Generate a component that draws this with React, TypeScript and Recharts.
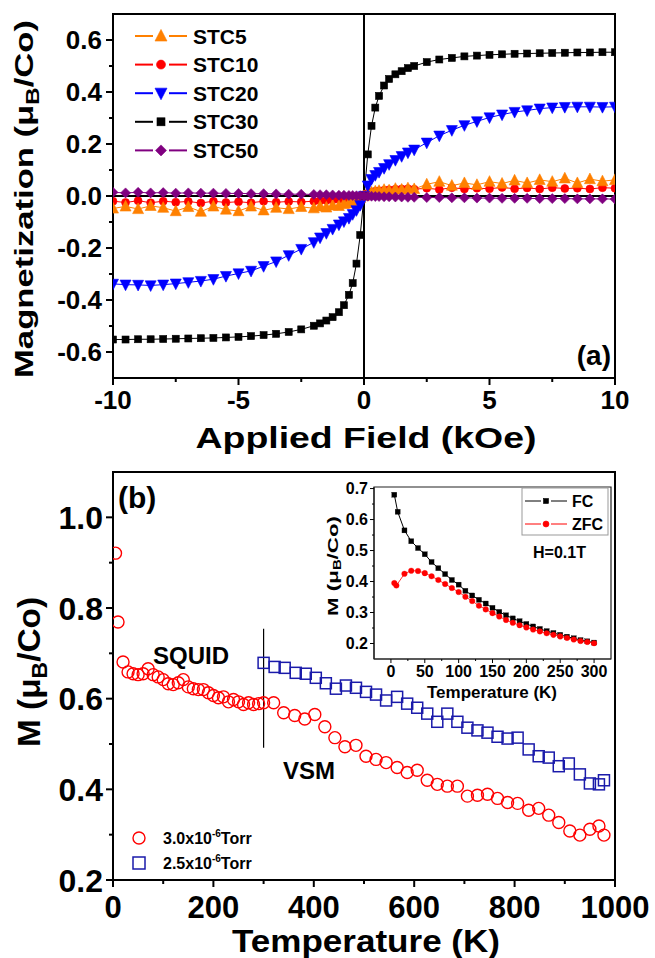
import React from 'react';
import { LineChart, Line, XAxis, YAxis, ReferenceLine, ReferenceArea, ScatterChart, Scatter } from 'recharts';

const FONT = '"Liberation Sans", Arial, Helvetica, sans-serif';

// ---------- Panel (a): M vs H ----------
const fieldKOe = [-10, -9.5, -9, -8.5, -8, -7.5, -7, -6.5, -6, -5.5, -5, -4.5, -4, -3.5, -3, -2.5, -2, -1.75, -1.5, -1.25, -1, -0.8, -0.6, -0.45, -0.3, -0.15, 0, 0.15, 0.3, 0.45, 0.6, 0.8, 1, 1.25, 1.5, 1.75, 2, 2.5, 3, 3.5, 4, 4.5, 5, 5.5, 6, 6.5, 7, 7.5, 8, 8.5, 9, 9.5, 10];
const stc5 = [-0.048, -0.04, -0.05, -0.038, -0.045, -0.058, -0.042, -0.06, -0.04, -0.052, -0.058, -0.04, -0.055, -0.045, -0.05, -0.042, -0.047, -0.04, -0.044, -0.036, -0.038, -0.03, -0.028, -0.02, -0.015, -0.008, 0.0, 0.008, 0.014, 0.018, 0.02, 0.024, 0.022, 0.028, 0.025, 0.03, 0.027, 0.045, 0.055, 0.04, 0.05, 0.043, 0.055, 0.048, 0.06, 0.05, 0.062, 0.055, 0.068, 0.05, 0.065, 0.057, 0.062];
const stc10 = [-0.02, -0.025, -0.018, -0.026, -0.02, -0.024, -0.021, -0.027, -0.02, -0.025, -0.022, -0.026, -0.02, -0.024, -0.021, -0.023, -0.02, -0.018, -0.017, -0.015, -0.013, -0.011, -0.008, -0.006, -0.004, -0.002, 0.005, 0.01, 0.015, 0.018, 0.02, 0.022, 0.024, 0.026, 0.027, 0.028, 0.026, 0.03, 0.025, 0.032, 0.027, 0.03, 0.028, 0.033, 0.028, 0.031, 0.027, 0.032, 0.029, 0.03, 0.027, 0.032, 0.03];
const stc20 = [-0.338, -0.341, -0.342, -0.344, -0.341, -0.337, -0.332, -0.327, -0.32, -0.308, -0.298, -0.288, -0.27, -0.252, -0.228, -0.204, -0.178, -0.16, -0.143, -0.127, -0.11, -0.098, -0.085, -0.07, -0.055, -0.035, 0.0, 0.04, 0.065, 0.08, 0.092, 0.107, 0.122, 0.138, 0.153, 0.167, 0.178, 0.205, 0.232, 0.253, 0.272, 0.287, 0.302, 0.313, 0.323, 0.329, 0.336, 0.34, 0.342, 0.343, 0.343, 0.342, 0.343];
const stc30 = [-0.552, -0.552, -0.551, -0.551, -0.55, -0.549, -0.548, -0.547, -0.546, -0.544, -0.542, -0.539, -0.535, -0.53, -0.523, -0.513, -0.499, -0.49, -0.479, -0.466, -0.447, -0.42, -0.38, -0.335, -0.26, -0.15, 0.0, 0.16, 0.27, 0.34, 0.385, 0.425, 0.45, 0.468, 0.48, 0.492, 0.5, 0.515, 0.525, 0.531, 0.537, 0.54, 0.543, 0.545, 0.547, 0.548, 0.549, 0.55, 0.551, 0.552, 0.552, 0.553, 0.553];
const stc50 = [0.014, 0.012, 0.014, 0.012, 0.013, 0.011, 0.012, 0.011, 0.011, 0.01, 0.01, 0.009, 0.009, 0.008, 0.007, 0.007, 0.006, 0.005, 0.005, 0.004, 0.003, 0.003, 0.002, 0.002, 0.001, 0.001, 0.0, -0.001, -0.001, -0.002, -0.002, -0.003, -0.003, -0.004, -0.004, -0.005, -0.005, -0.006, -0.006, -0.007, -0.007, -0.008, -0.008, -0.009, -0.009, -0.009, -0.01, -0.01, -0.01, -0.011, -0.011, -0.011, -0.012];
const seriesNamesA = ['STC5', 'STC10', 'STC20', 'STC30', 'STC50'];
const xTicksA = [-10, -7.5, -5, -2.5, 0, 2.5, 5, 7.5, 10];
const xMajorsA = [-10, -5, 0, 5, 10];
const yTicksA = [-0.6, -0.5, -0.4, -0.3, -0.2, -0.1, 0, 0.1, 0.2, 0.3, 0.4, 0.5, 0.6];
const yMajorsA = [-0.6, -0.4, -0.2, 0, 0.2, 0.4, 0.6];

// ---------- Panel (b): M vs T ----------
const tempRed = [5, 10, 20, 30, 40, 50, 60, 70, 80, 90, 100, 110, 120, 130, 140, 150, 160, 170, 180, 190, 200, 210, 220, 230, 240, 250, 260, 270, 280, 290, 300, 320, 340, 362, 382, 402, 422, 442, 462, 484, 504, 524, 544, 566, 586, 606, 626, 646, 666, 686, 706, 726, 746, 766, 786, 806, 828, 848, 868, 888, 910, 930, 950, 968, 978];
const mRed = [0.921, 0.769, 0.681, 0.659, 0.655, 0.653, 0.655, 0.666, 0.653, 0.648, 0.642, 0.633, 0.631, 0.635, 0.642, 0.626, 0.622, 0.62, 0.62, 0.613, 0.607, 0.602, 0.604, 0.593, 0.598, 0.593, 0.587, 0.591, 0.587, 0.589, 0.591, 0.591, 0.569, 0.563, 0.555, 0.565, 0.538, 0.514, 0.494, 0.497, 0.473, 0.466, 0.459, 0.448, 0.437, 0.442, 0.42, 0.411, 0.407, 0.407, 0.385, 0.387, 0.389, 0.38, 0.371, 0.369, 0.354, 0.358, 0.343, 0.327, 0.308, 0.299, 0.312, 0.319, 0.299];
const tempBlue = [300, 322, 342, 364, 384, 404, 424, 444, 464, 484, 504, 524, 544, 566, 586, 606, 626, 646, 666, 686, 706, 726, 746, 766, 786, 806, 828, 848, 868, 888, 908, 930, 950, 968, 978];
const mBlue = [0.679, 0.67, 0.668, 0.657, 0.655, 0.646, 0.634, 0.622, 0.629, 0.624, 0.615, 0.609, 0.596, 0.604, 0.589, 0.58, 0.567, 0.549, 0.567, 0.549, 0.536, 0.53, 0.525, 0.516, 0.512, 0.514, 0.488, 0.473, 0.47, 0.451, 0.457, 0.433, 0.413, 0.411, 0.42];
const xTicksB = [0, 100, 200, 300, 400, 500, 600, 700, 800, 900, 1000];
const xMajorsB = [0, 200, 400, 600, 800, 1000];
const yTicksB = [0.2, 0.3, 0.4, 0.5, 0.6, 0.7, 0.8, 0.9, 1.0];
const yMajorsB = [0.2, 0.4, 0.6, 0.8, 1.0];

// ---------- Inset: FC / ZFC ----------
const tempFC = [5, 10, 20, 30, 40, 50, 60, 70, 80, 90, 100, 110, 120, 130, 140, 150, 160, 170, 180, 190, 200, 210, 220, 230, 240, 250, 260, 270, 280, 290, 300];
const mFC = [0.68, 0.625, 0.565, 0.53, 0.508, 0.488, 0.463, 0.443, 0.424, 0.405, 0.39, 0.37, 0.355, 0.341, 0.329, 0.315, 0.302, 0.291, 0.281, 0.272, 0.263, 0.255, 0.247, 0.24, 0.234, 0.228, 0.222, 0.217, 0.211, 0.207, 0.203];
const tempZFC = [5, 8, 20, 30, 40, 50, 60, 70, 80, 90, 100, 110, 120, 130, 140, 150, 160, 170, 180, 190, 200, 210, 220, 230, 240, 250, 260, 270, 280, 290, 300];
const mZFC = [0.395, 0.387, 0.425, 0.435, 0.434, 0.427, 0.417, 0.405, 0.392, 0.379, 0.366, 0.351, 0.337, 0.322, 0.31, 0.298, 0.287, 0.276, 0.267, 0.259, 0.252, 0.245, 0.239, 0.233, 0.228, 0.223, 0.218, 0.213, 0.208, 0.205, 0.201];
const xTicksI = [0, 25, 50, 75, 100, 125, 150, 175, 200, 225, 250, 275, 300];
const xMajorsI = [0, 50, 100, 150, 200, 250, 300];
const yTicksI = [0.2, 0.25, 0.3, 0.35, 0.4, 0.45, 0.5, 0.55, 0.6, 0.65, 0.7];
const yMajorsI = [0.2, 0.3, 0.4, 0.5, 0.6, 0.7];

// ---------- derived tables ----------
const rowsA = fieldKOe.map((h, i) => ({ h, STC5: stc5[i], STC10: stc10[i], STC20: stc20[i], STC30: stc30[i], STC50: stc50[i] }));
const redRows = tempRed.map((t, i) => ({ t, m: mRed[i] }));
const blueRows = tempBlue.map((t, i) => ({ t, m: mBlue[i] }));
const fcRows = tempFC.map((t, i) => ({ t, m: mFC[i] }));
const zfcRows = tempZFC.map((t, i) => ({ t, m: mZFC[i] }));

const styleA: Record<string, { color: string; kind: string; size: number }> = {
  STC5: { color: '#FF8000', kind: 'up', size: 11 },
  STC10: { color: '#FF0000', kind: 'circle', size: 8 },
  STC20: { color: '#0000FF', kind: 'down', size: 11 },
  STC30: { color: '#000000', kind: 'square', size: 7 },
  STC50: { color: '#800080', kind: 'diamond', size: 10 },
};
const drawOrderA = ['STC10', 'STC5', 'STC20', 'STC30', 'STC50'];

function Marker({ kind, cx, cy, size, color, open, sw }: any) {
  if (cx == null || cy == null || isNaN(cx) || isNaN(cy)) return null;
  const s = size;
  const common = { fill: open ? 'none' : color, stroke: color, strokeWidth: sw ?? (open ? 1.4 : 0.6) };
  switch (kind) {
    case 'square':
      return <rect x={cx - s / 2} y={cy - s / 2} width={s} height={s} {...common} />;
    case 'circle':
      return <circle cx={cx} cy={cy} r={s / 2} {...common} />;
    case 'up':
      return <polygon points={`${cx},${cy - s * 0.55} ${cx - s / 2},${cy + s * 0.42} ${cx + s / 2},${cy + s * 0.42}`} {...common} />;
    case 'down':
      return <polygon points={`${cx},${cy + s * 0.55} ${cx - s / 2},${cy - s * 0.42} ${cx + s / 2},${cy - s * 0.42}`} {...common} />;
    case 'diamond':
      return <polygon points={`${cx},${cy - s / 2} ${cx + s / 2},${cy} ${cx},${cy + s / 2} ${cx - s / 2},${cy}`} {...common} />;
  }
  return null;
}

const near = (arr: number[], v: number) => arr.some((m) => Math.abs(m - v) < 1e-6);

const makeYTick = (majors: number[], fontSize: number, digits: number, majorLen: number, minorLen: number, gap: number, sw: number) =>
  (props: any) => {
    const { x, y, payload } = props;
    const v = payload.value;
    const major = near(majors, v);
    return (
      <g>
        <line x1={x - (major ? majorLen : minorLen)} x2={x} y1={y} y2={y} stroke="#000" strokeWidth={sw} />
        {major && (
          <text x={x - majorLen - gap} y={y} dy="0.36em" textAnchor="end" fontFamily={FONT} fontWeight="bold" fontSize={fontSize} fill="#000">
            {Math.abs(v) < 1e-9 ? (0).toFixed(digits) : v.toFixed(digits)}
          </text>
        )}
      </g>
    );
  };

const makeXTick = (majors: number[], fontSize: number, digits: number, majorLen: number, minorLen: number, labelCenter: number, sw: number) =>
  (props: any) => {
    const { x, y, payload } = props;
    const v = payload.value;
    const major = near(majors, v);
    return (
      <g>
        <line x1={x} x2={x} y1={y} y2={y + (major ? majorLen : minorLen)} stroke="#000" strokeWidth={sw} />
        {major && (
          <text x={x} y={y + labelCenter} dy="0.36em" textAnchor="middle" fontFamily={FONT} fontWeight="bold" fontSize={fontSize} fill="#000">
            {Math.abs(v) < 1e-9 ? (0).toFixed(digits) : v.toFixed(digits)}
          </text>
        )}
      </g>
    );
  };

const txt = { fontFamily: FONT, fontWeight: 'bold' as const, fill: '#000' };

export default function App() {
  return (
    <div style={{ position: 'absolute', left: 0, top: 0, width: 655, height: 958, background: '#fff', overflow: 'hidden' }}>
      {/* Panel (a) */}
      <div style={{ position: 'absolute', left: 0, top: 0 }}>
        <LineChart width={655} height={460} data={rowsA} margin={{ top: 14, right: 40, left: 0, bottom: 0 }}>
          <XAxis dataKey="h" type="number" domain={[-10, 10]} ticks={xTicksA} interval={0} tickSize={0} tickMargin={0} tickLine={false}
            axisLine={{ stroke: '#000', strokeWidth: 2 }} height={82} tick={makeXTick(xMajorsA, 26, 0, 7, 4, 22, 2)} allowDataOverflow />
          <YAxis type="number" domain={[-0.7, 0.7]} ticks={yTicksA} interval={0} tickSize={0} tickMargin={0} tickLine={false}
            axisLine={{ stroke: '#000', strokeWidth: 2 }} width={113} tick={makeYTick(yMajorsA, 26, 1, 7, 4, 4, 2)} allowDataOverflow />
          <ReferenceArea x1={-10} x2={10} y1={-0.7} y2={0.7} fill="none" stroke="#000" strokeWidth={2} ifOverflow="visible" />
          <ReferenceLine y={0} stroke="#000" strokeWidth={2} />
          <ReferenceLine x={0} stroke="#000" strokeWidth={2} />
          {drawOrderA.map((name) => {
            const st = styleA[name];
            return (
              <Line key={name} dataKey={name} type="linear" stroke={st.color} strokeWidth={1} isAnimationActive={false} activeDot={false}
                dot={(p: any) => <Marker key={`${name}-${p.index}`} kind={st.kind} cx={p.cx} cy={p.cy} size={st.size} color={st.color} />} />
            );
          })}
        </LineChart>
      </div>

      {/* Panel (b) */}
      <div style={{ position: 'absolute', left: 0, top: 440 }}>
        <ScatterChart width={655} height={518} margin={{ top: 32, right: 40, left: 0, bottom: 0 }}>
          <XAxis dataKey="t" type="number" domain={[0, 1000]} ticks={xTicksB} interval={0} tickSize={0} tickMargin={0} tickLine={false}
            axisLine={{ stroke: '#000', strokeWidth: 2 }} height={78} tick={makeXTick(xMajorsB, 31, 0, 7, 4, 27, 2)} allowDataOverflow />
          <YAxis dataKey="m" type="number" domain={[0.2, 1.1]} ticks={yTicksB} interval={0} tickSize={0} tickMargin={0} tickLine={false}
            axisLine={{ stroke: '#000', strokeWidth: 2 }} width={113} tick={makeYTick(yMajorsB, 32, 1, 7, 4, 3, 2)} allowDataOverflow />
          <ReferenceArea x1={0} x2={1000} y1={0.2} y2={1.1} fill="none" stroke="#000" strokeWidth={2} ifOverflow="visible" />
          <ReferenceLine segment={[{ x: 300, y: 0.492 }, { x: 300, y: 0.754 }]} stroke="#000" strokeWidth={1.2} />
          <Scatter name="3.0x10-6Torr" data={redRows} isAnimationActive={false}
            shape={(p: any) => <Marker kind="circle" cx={p.cx} cy={p.cy} size={12} color="#FF0000" open sw={1.4} />} />
          <Scatter name="2.5x10-6Torr" data={blueRows} isAnimationActive={false}
            shape={(p: any) => <Marker kind="square" cx={p.cx} cy={p.cy} size={11} color="#1A1AAA" open sw={1.5} />} />
        </ScatterChart>
      </div>

      {/* Inset */}
      <div style={{ position: 'absolute', left: 320, top: 480 }}>
        <ScatterChart width={300} height={220} margin={{ top: 7, right: 9, left: 0, bottom: 0 }}>
          <XAxis dataKey="t" type="number" domain={[-25, 325]} ticks={xTicksI} interval={0} tickSize={0} tickMargin={0} tickLine={false}
            axisLine={{ stroke: '#222', strokeWidth: 1.2 }} height={41} tick={makeXTick(xMajorsI, 16, 0, 4, 2, 12, 1)} allowDataOverflow />
          <YAxis dataKey="m" type="number" domain={[0.15, 0.705]} ticks={yTicksI} interval={0} tickSize={0} tickMargin={0} tickLine={false}
            axisLine={{ stroke: '#222', strokeWidth: 1.2 }} width={54} tick={makeYTick(yMajorsI, 16, 1, 4, 2, 2, 1)} allowDataOverflow />
          <ReferenceArea x1={-25} x2={325} y1={0.15} y2={0.705} fill="none" stroke="#222" strokeWidth={1.2} ifOverflow="visible" />
          <Scatter name="FC" data={fcRows} isAnimationActive={false} line={{ stroke: '#000', strokeWidth: 1 }} lineType="joint"
            shape={(p: any) => <Marker kind="square" cx={p.cx} cy={p.cy} size={5} color="#000" sw={0.3} />} />
          <Scatter name="ZFC" data={zfcRows} isAnimationActive={false} line={{ stroke: '#FF0000', strokeWidth: 0.8 }} lineType="joint"
            shape={(p: any) => <Marker kind="circle" cx={p.cx} cy={p.cy} size={5.6} color="#FF0000" sw={0.3} />} />
        </ScatterChart>
      </div>

      {/* Titles, legends and annotations */}
      <svg width={655} height={958} style={{ position: 'absolute', left: 0, top: 0, pointerEvents: 'none' }}>
        {/* panel (a) axis titles */}
        <text {...txt} fontSize={26} transform="translate(33,199) rotate(-90)" textAnchor="middle" textLength={358} lengthAdjust="spacingAndGlyphs">
          Magnetization (μ<tspan fontSize={18} dy={6}>B</tspan><tspan dy={-6}>/Co)</tspan>
        </text>
        <text {...txt} fontSize={30} x={366} y={448} textAnchor="middle" textLength={341} lengthAdjust="spacingAndGlyphs">Applied Field (kOe)</text>
        <text {...txt} fontSize={28} x={611} y={355} dy="0.36em" textAnchor="end">(a)</text>

        {/* panel (a) legend */}
        {seriesNamesA.map((name, i) => {
          const st = styleA[name];
          const y = 36 + i * 28.6;
          return (
            <g key={name}>
              <line x1={135} x2={153} y1={y} y2={y} stroke={st.color} strokeWidth={2} />
              <line x1={169} x2={187} y1={y} y2={y} stroke={st.color} strokeWidth={2} />
              <Marker kind={st.kind} cx={161} cy={y} size={st.size + 1} color={st.color} />
              <text {...txt} fontSize={21} x={193} y={y} dy="0.36em">{name}</text>
            </g>
          );
        })}

        {/* panel (b) axis titles */}
        <text {...txt} fontSize={32} transform="translate(40,672) rotate(-90)" textAnchor="middle" textLength={150} lengthAdjust="spacingAndGlyphs">
          M (μ<tspan fontSize={22} dy={7}>B</tspan><tspan dy={-7}>/Co)</tspan>
        </text>
        <text {...txt} fontSize={32} x={366} y={952} textAnchor="middle" textLength={268} lengthAdjust="spacingAndGlyphs">Temperature (K)</text>
        <text {...txt} fontSize={30} x={118} y={497} dy="0.36em">(b)</text>
        <text {...txt} fontSize={24} x={153} y={655} dy="0.36em">SQUID</text>
        <text {...txt} fontSize={24} x={283} y={770} dy="0.36em">VSM</text>

        {/* panel (b) legend */}
        <circle cx={139} cy={838} r={6} fill="none" stroke="#FF0000" strokeWidth={1.4} />
        <text {...txt} fontSize={16} x={163} y={838} dy="0.36em">3.0x10<tspan fontSize={10} dy={-7}>-6</tspan><tspan dy={7}>Torr</tspan></text>
        <rect x={133} y={857} width={12} height={12} fill="none" stroke="#1A1AAA" strokeWidth={1.5} />
        <text {...txt} fontSize={16} x={163} y={863} dy="0.36em">2.5x10<tspan fontSize={10} dy={-7}>-6</tspan><tspan dy={7}>Torr</tspan></text>

        {/* inset titles, legend */}
        <text {...txt} fontSize={15} transform="translate(338,566) rotate(-90)" textAnchor="middle" textLength={100} lengthAdjust="spacingAndGlyphs">
          M (μ<tspan fontSize={10} dy={3}>B</tspan><tspan dy={-3}>/Co)</tspan>
        </text>
        <text {...txt} fontSize={17} x={492} y={698} textAnchor="middle">Temperature (K)</text>
        <rect x={522} y={488} width={86} height={47} fill="#fff" stroke="#999" strokeWidth={1} />
        <line x1={525} x2={541} y1={501} y2={501} stroke="#000" strokeWidth={1} />
        <line x1={551} x2={567} y1={501} y2={501} stroke="#000" strokeWidth={1} />
        <Marker kind="square" cx={546} cy={501} size={5} color="#000" />
        <text {...txt} fontSize={16} x={572} y={501} dy="0.36em">FC</text>
        <line x1={525} x2={541} y1={524} y2={524} stroke="#FF0000" strokeWidth={1} />
        <line x1={551} x2={567} y1={524} y2={524} stroke="#FF0000" strokeWidth={1} />
        <Marker kind="circle" cx={546} cy={524} size={6} color="#FF0000" />
        <text {...txt} fontSize={16} x={572} y={524} dy="0.36em">ZFC</text>
        <text {...txt} fontSize={16} x={533} y={552} dy="0.36em">H=0.1T</text>
      </svg>
    </div>
  );
}
